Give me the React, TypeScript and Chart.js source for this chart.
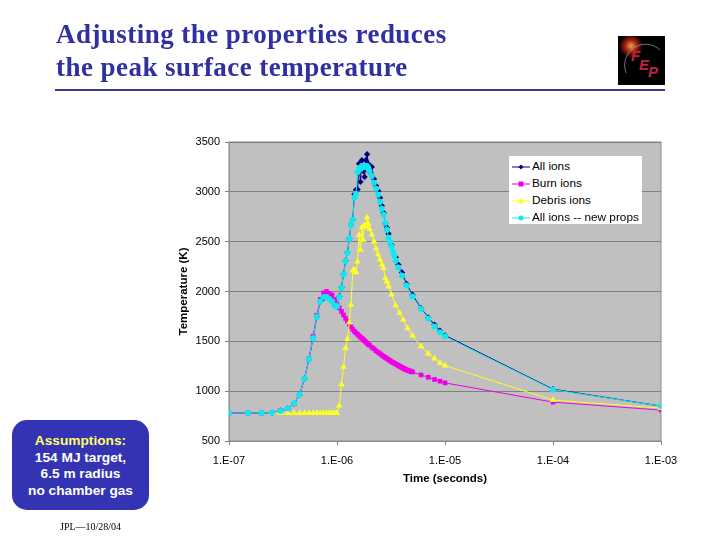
import React, { useEffect, useRef } from "react";
import { Chart, registerables } from "chart.js";

Chart.register(...registerables);

const times = [
  1e-7, 1.5e-7, 2e-7, 2.5e-7, 3e-7, 3.5e-7, 4e-7, 4.5e-7, 5e-7, 5.5e-7, 6e-7, 6.5e-7, 7e-7, 7.5e-7, 8e-7, 8.5e-7, 9e-7, 9.5e-7,
  1e-6, 1.05e-6, 1.1e-6, 1.15e-6, 1.2e-6, 1.25e-6, 1.3e-6, 1.35e-6, 1.4e-6, 1.45e-6, 1.5e-6, 1.55e-6, 1.6e-6, 1.65e-6, 1.7e-6, 1.75e-6, 1.8e-6, 1.85e-6, 1.9e-6, 1.95e-6, 2e-6,
  2.1e-6, 2.2e-6, 2.3e-6, 2.4e-6, 2.5e-6, 2.6e-6, 2.7e-6, 2.8e-6, 2.9e-6, 3e-6, 3.1e-6, 3.2e-6, 3.3e-6, 3.4e-6, 3.5e-6, 3.6e-6, 3.7e-6, 3.8e-6, 3.9e-6, 4e-6, 4.1e-6, 4.2e-6, 4.3e-6, 4.4e-6, 4.5e-6, 4.6e-6, 4.7e-6, 4.8e-6, 4.9e-6, 5e-6,
  6e-6, 7e-6, 8e-6, 9e-6, 1e-5, 1e-4, 1e-3,
];

const allIons = [
  780, 780, 780, 785, 805, 825, 875, 965, 1125, 1320, 1530, 1745, 1900, 1935, 1950, 1935, 1915, 1880,
  1855, 1950, 2043, 2173, 2310, 2393, 2533, 2673, 2723, 2977, 3020, 3023, 3283, 3100, 3317, 3210, 3150, 3317, 3377, 3280, 3200,
  3250, 3130, 3060, 3010, 2940, 2860, 2790, 2680, 2640, 2580, null, 2467, null, null, 2343, null, 2270, null, null, 2190, null, null, null, 2077, null, null, null, null, null, 1967,
  1833, 1740, 1667, 1607, 1560, 1020, 850,
];

const burnIons = [
  780, 780, 780, 785, 805, 825, 875, 965, 1125, 1325, 1550, 1760, 1920, 1985, 2000, 1980, 1965, 1920,
  1870, 1835, 1800, 1765, 1730, 1700, 1670, 1645, 1620, 1600, 1585, 1570, 1555, 1542, 1530, 1517, 1505, 1492, 1480, 1470, 1460,
  1440, 1425, 1405, 1390, 1377, 1362, 1350, 1338, 1327, 1316, 1306, 1296, 1288, 1280, 1272, 1265, 1258, 1250, 1244, 1237, 1231, 1225, 1219, 1214, 1210, 1206, 1202, 1199, 1196, 1192,
  1163, 1140, 1117, 1100, 1083, 890, 810,
];

const debrisIons = [
  null, null, null, 780, 780, 780, 780, 780, 780, 780, 780, 780, 780, 780, 780, 780, 780, 780,
  780, 855, 1067, 1243, 1433, 1523, 1690, 1867, 2210, 2217, 2193, 2300, 2567, 2417, 2643, 2517, 2667, 2650, 2743, 2680, 2627,
  2570, 2500, 2430, 2370, 2320, 2270, 2235, 2133, 2100, 2050, null, 1967, null, null, 1860, null, null, 1785, null, null, 1717, null, null, null, 1630, null, null, null, null, 1557,
  1450, 1377, 1327, 1283, 1257, 910, 830,
];

const newProps = [
  780, 780, 780, 785, 800, 825, 880, 965, 1125, 1320, 1530, 1745, 1900, 1945, 1945, 1925, 1900, 1860,
  1850, 1945, 2040, 2170, 2305, 2390, 2530, 2670, 2720, 2940, 2980, 3200, 3240, 3230, 3260, 3250, 3260, 3250, 3260, 3240, 3210,
  3160, 3090, 3030, 2970, 2900, 2830, 2770, 2690, 2620, 2540, 2500, 2450, 2400, 2360, 2310, null, 2240, null, null, 2160, null, null, null, 2060, null, null, null, null, null, 1950,
  1825, 1730, 1650, 1590, 1550, 1015, 850,
];

const xTickValues = [1e-7, 1e-6, 1e-5, 1e-4, 1e-3];
const xTickLabels = ["1.E-07", "1.E-06", "1.E-05", "1.E-04", "1.E-03"];
const titleLines = ["Adjusting the properties reduces", "the peak surface temperature"];
const assumptionLines = ["154 MJ target,", "6.5 m radius", "no chamber gas"];
const legendNames = ["All ions", "Burn ions", "Debris ions", "All ions -- new props"];

const NAVY = "#000080";
const MAGENTA = "#f000e8";
const YELLOW = "#ffff20";
const CYAN = "#10e8f0";
const ARIAL = '"Liberation Sans", Arial, sans-serif';
const SERIF = '"Liberation Serif", "Times New Roman", serif';

const plotFrame = {
  id: "plotFrame",
  beforeDraw(chart: any) {
    const { ctx, chartArea: a } = chart;
    ctx.save();
    ctx.fillStyle = "#c0c0c0";
    ctx.fillRect(a.left, a.top, a.width, a.height);
    ctx.strokeStyle = "#8c8c8c";
    ctx.lineWidth = 1;
    ctx.strokeRect(a.left, a.top, a.width, a.height);
    ctx.restore();
  },
};

function LegendMark({ color, kind }: { color: string; kind: number }) {
  return (
    <svg width={18} height={8} style={{ position: "absolute", left: 3, top: 5 }}>
      <line x1={0} y1={4} x2={18} y2={4} stroke={color} strokeWidth={1} />
      {kind === 0 && <polygon points="9,1.5 11.5,4 9,6.5 6.5,4" fill={color} />}
      {kind === 1 && <rect x={6.5} y={1.5} width={5} height={5} fill={color} />}
      {kind === 2 && <polygon points="9,0.5 12,6.5 6,6.5" fill={color} />}
      {kind === 3 && <circle cx={9} cy={4} r={2.5} fill={color} />}
    </svg>
  );
}

export default function App() {
  const ref = useRef<HTMLCanvasElement>(null);
  useEffect(() => {
    const mk = (label: string, data: any[], color: string, pointStyle: string, radius: number, order: number) => ({
      label,
      data: times.map((t, i) => ({ x: t, y: data[i] })),
      borderColor: color,
      backgroundColor: color,
      pointBackgroundColor: color,
      pointBorderColor: color,
      pointBorderWidth: 0,
      pointStyle,
      pointRadius: radius,
      borderWidth: 1,
      spanGaps: true,
      tension: 0,
      order,
    });
    const chart = new Chart(ref.current!, {
      type: "line",
      data: {
        datasets: [
          mk(legendNames[0], allIons, NAVY, "rectRot", 3.2, 4),
          mk(legendNames[1], burnIons, MAGENTA, "rect", 3.3, 3),
          mk(legendNames[2], debrisIons, YELLOW, "triangle", 3.8, 2),
          mk(legendNames[3], newProps, CYAN, "circle", 3, 1),
        ] as any,
      },
      options: {
        animation: false,
        responsive: false,
        devicePixelRatio: 1,
        layout: { padding: { left: 177, right: 59, top: 142, bottom: 54 } },
        plugins: { legend: { display: false }, tooltip: { enabled: false } },
        scales: {
          x: {
            type: "logarithmic",
            min: 1e-7,
            max: 1e-3,
            afterBuildTicks: (s: any) => {
              s.ticks = xTickValues.map((value) => ({ value }));
            },
            afterFit: (s: any) => {
              s.height = 45;
            },
            ticks: {
              autoSkip: false,
              maxRotation: 0,
              color: "#000",
              padding: 9,
              font: { family: ARIAL, size: 11 },
              callback: (_v: any, i: number) => xTickLabels[i],
            },
            grid: { drawOnChartArea: false, color: "#808080", tickLength: 4 },
            border: { color: "#8c8c8c" },
            title: {
              display: true,
              text: "Time (seconds)",
              color: "#000",
              padding: { top: 0, bottom: 0 },
              font: { family: ARIAL, size: 11.5, weight: "bold" },
            },
          },
          y: {
            min: 500,
            max: 3500,
            afterFit: (s: any) => {
              s.width = 52;
            },
            ticks: {
              stepSize: 500,
              color: "#000",
              padding: 5,
              font: { family: ARIAL, size: 11 },
              callback: (v: any) => String(v),
            },
            grid: { color: "#808080", tickLength: 4 },
            border: { color: "#8c8c8c" },
            title: {
              display: true,
              text: "Temperature (K)",
              color: "#000",
              padding: { top: 0, bottom: 0 },
              font: { family: ARIAL, size: 11.5, weight: "bold" },
            },
          },
        },
      } as any,
      plugins: [plotFrame],
    });
    return () => chart.destroy();
  }, []);

  const legendColors = [NAVY, MAGENTA, YELLOW, CYAN];

  return (
    <div style={{ position: "fixed", left: 0, top: 0, width: 720, height: 540, background: "#fff", overflow: "hidden" }}>
      <canvas ref={ref} width={720} height={540} style={{ position: "absolute", left: 0, top: 0, width: 720, height: 540 }} />

      <div style={{ position: "absolute", left: 56, top: 18, fontFamily: SERIF, fontWeight: "bold", fontSize: 27, letterSpacing: 0.45, lineHeight: "33px", color: "#3030a0", whiteSpace: "nowrap" }}>
        {titleLines.map((t) => (
          <div key={t}>{t}</div>
        ))}
      </div>
      <div style={{ position: "absolute", left: 55, top: 89, width: 610, height: 2, background: "#3a3a88" }} />

      <div style={{ position: "absolute", left: 618, top: 36, width: 47, height: 49, background: "#000", overflow: "hidden" }}>
        <svg width={47} height={49} style={{ position: "absolute", left: 0, top: 0 }}>
          <defs>
            <radialGradient id="glow">
              <stop offset="0%" stopColor="#f0a040" />
              <stop offset="50%" stopColor="#a02010" />
              <stop offset="100%" stopColor="#000" />
            </radialGradient>
          </defs>
          <circle cx={13} cy={10} r={12} fill="url(#glow)" />
          <path d="M 8 37 A 21 21 0 0 1 42 14" fill="none" stroke="#a0a0a0" strokeWidth={0.7} />
          <text x={13} y={25} fontFamily={ARIAL} fontStyle="italic" fontWeight="bold" fontSize={15} fill="#c02040">F</text>
          <text x={21} y={34} fontFamily={ARIAL} fontStyle="italic" fontWeight="bold" fontSize={15} fill="#c02040">E</text>
          <text x={30} y={41} fontFamily={ARIAL} fontStyle="italic" fontWeight="bold" fontSize={15} fill="#c02040">P</text>
        </svg>
      </div>

      <div style={{ position: "absolute", left: 509, top: 156, width: 133, height: 68, background: "#fff", fontFamily: ARIAL, fontSize: 11.8, color: "#000" }}>
        {legendNames.map((name, i) => (
          <div key={name} style={{ position: "absolute", left: 0, top: 1.5 + i * 17.2, width: 133, height: 17, lineHeight: "17px" }}>
            <LegendMark color={legendColors[i]} kind={i} />
            <span style={{ position: "absolute", left: 23, whiteSpace: "nowrap" }}>{name}</span>
          </div>
        ))}
      </div>

      <div style={{ position: "absolute", left: 12, top: 420, width: 137, height: 90, background: "#3333b3", borderRadius: 15, textAlign: "center", fontFamily: ARIAL, fontWeight: "bold", fontSize: 13.7, lineHeight: "16.6px", paddingTop: 13, boxSizing: "border-box", color: "#fff" }}>
        <div style={{ color: "#ffff66" }}>Assumptions:</div>
        {assumptionLines.map((t) => (
          <div key={t}>{t}</div>
        ))}
      </div>

      <div style={{ position: "absolute", left: 60, top: 521, fontFamily: SERIF, fontSize: 10, lineHeight: "12px", color: "#000", whiteSpace: "nowrap" }}>JPL—10/28/04</div>
    </div>
  );
}
